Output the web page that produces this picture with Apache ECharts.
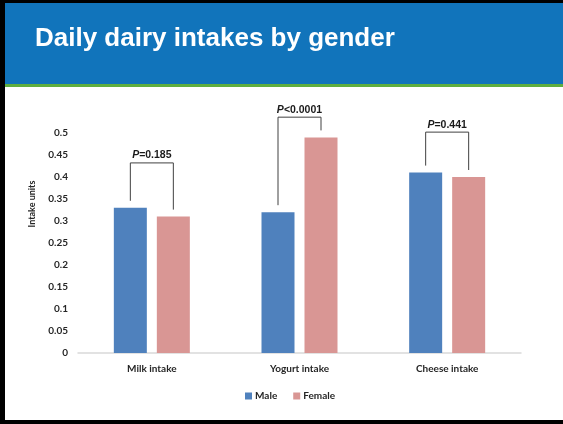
<!DOCTYPE html>
<html>
<head>
<meta charset="utf-8">
<script src="https://cdn.jsdelivr.net/npm/echarts@6/dist/echarts.min.js"></script>
<style>
  html, body { margin: 0; padding: 0; background: #fff; }
  #chart { width: 563px; height: 424px; }
</style>
</head>
<body>
<div id="chart"></div>
<script>
// data
const categories = ['Milk intake', 'Yogurt intake', 'Cheese intake']
const maleValues = [0.33, 0.32, 0.41]
const femaleValues = [0.31, 0.49, 0.40]
const pLabels = ['=0.185', '<0.0001', '=0.441']
const bracketTops = [0.432, 0.536, 0.502]
const yTicks = { min: 0, max: 0.5, interval: 0.05 }

const BAR_W = 33
const BAR_GAP = 10
const labelFont = 'Lato, "Liberation Sans", sans-serif'

const chart = echarts.init(document.getElementById('chart'), null, { renderer: 'canvas' })

// bracket over each pair of bars, placed via the axes
const renderBracket = (params, api) => {
  const idx = api.value(0)
  const cx = api.coord([idx, 0])[0]
  const off = (BAR_W + BAR_GAP) / 2
  const xl = cx - off
  const xr = cx + off
  const yTop = api.coord([idx, api.value(1)])[1]
  const yl = api.coord([idx, api.value(2)])[1] - 7
  const yr = api.coord([idx, api.value(3)])[1] - 7
  const i = params.dataIndex
  return {
    type: 'group',
    children: [
      {
        type: 'polyline',
        shape: { points: [[xl, yl], [xl, yTop], [xr, yTop], [xr, yr]] },
        style: { stroke: '#404040', lineWidth: 1, fill: null }
      },
      {
        type: 'text',
        x: cx, y: yTop - 2,
        style: {
          text: '{i|P}' + pLabels[i],
          align: 'center', verticalAlign: 'bottom',
          font: 'bold 10.5px Arial, "Liberation Sans", sans-serif',
          fill: '#1a1a1a',
          rich: { i: { fontStyle: 'italic', fontWeight: 'bold', fontSize: 10.5, fontFamily: 'Arial, "Liberation Sans", sans-serif', fill: '#1a1a1a' } }
        }
      }
    ]
  }
}

const option = {
  animation: false,
  backgroundColor: '#ffffff',
  graphic: [
    { type: 'rect', shape: { x: 0, y: 0, width: 563, height: 87 }, style: { fill: '#5fae3f' }, z: -1 },
    { type: 'rect', shape: { x: 0, y: 0, width: 563, height: 84 }, style: { fill: '#1174bb' }, z: -1 },
    { type: 'rect', shape: { x: 0, y: 0, width: 563, height: 3 }, style: { fill: '#000' } },
    { type: 'rect', shape: { x: 0, y: 0, width: 5, height: 424 }, style: { fill: '#000' } },
    { type: 'rect', shape: { x: 0, y: 420, width: 563, height: 4 }, style: { fill: '#000' } },
    {
      type: 'text', x: 35, y: 39,
      style: { text: 'Daily dairy intakes by gender', verticalAlign: 'middle', font: 'bold 26px Arial, "Liberation Sans", sans-serif', fill: '#ffffff' }
    },
    {
      type: 'text', x: 32, y: 204, rotation: Math.PI / 2,
      style: { text: 'Intake units', align: 'center', verticalAlign: 'middle', font: 'bold 9px ' + labelFont, fill: '#262626' }
    }
  ],
  legend: {
    data: ['Male', 'Female'],
    top: 386,
    left: 240,
    icon: 'rect',
    itemWidth: 7,
    itemHeight: 7,
    itemGap: 16,
    textStyle: { fontSize: 10, fontWeight: 'bold', fontFamily: labelFont, color: '#262626', padding: [0, 0, 0, -2] }
  },
  grid: { left: 78, right: 42, top: 133, bottom: 71, containLabel: false },
  xAxis: {
    type: 'category',
    data: categories,
    axisLine: { lineStyle: { color: '#d9d9d9', width: 1.5 } },
    axisTick: { show: false },
    axisLabel: { margin: 11, fontSize: 10, fontWeight: 'bold', fontFamily: labelFont, color: '#262626' }
  },
  yAxis: {
    type: 'value',
    min: yTicks.min,
    max: yTicks.max,
    interval: yTicks.interval,
    axisLine: { show: false },
    axisTick: { show: false },
    splitLine: { show: false },
    axisLabel: { margin: 10, fontSize: 10, fontWeight: 'bold', fontFamily: labelFont, color: '#262626' }
  },
  series: [
    {
      name: 'Male', type: 'bar', data: maleValues,
      barWidth: BAR_W, barGap: (BAR_GAP / BAR_W * 100) + '%',
      itemStyle: { color: '#4f81bd' }
    },
    {
      name: 'Female', type: 'bar', data: femaleValues,
      barWidth: BAR_W,
      itemStyle: { color: '#d99694' }
    },
    {
      name: 'brackets', type: 'custom',
      clip: false,
      silent: true,
      encode: { x: 0, y: 1 },
      data: categories.map((c, i) => [i, bracketTops[i], maleValues[i], femaleValues[i]]),
      renderItem: renderBracket,
      z: 5
    }
  ]
}

chart.setOption(option)
</script>
</body>
</html>
